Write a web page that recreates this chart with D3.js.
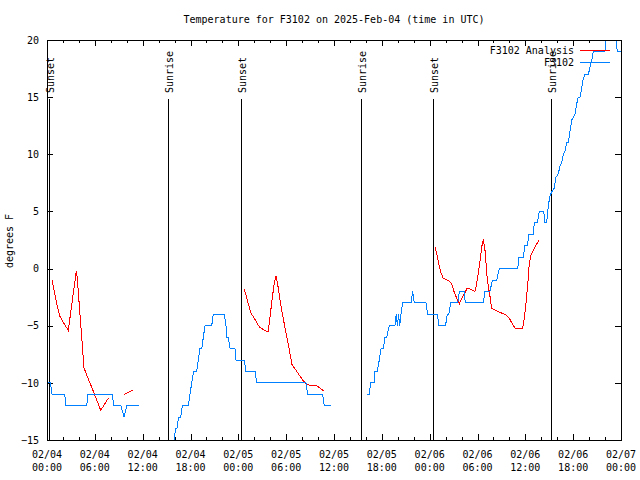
<!DOCTYPE html>
<html><head><meta charset="utf-8">
<script src="https://cdn.jsdelivr.net/npm/d3@7"></script>
<style>
body{margin:0;background:#fff}
svg{display:block}
text{font-family:"DejaVu Sans Mono","Liberation Mono",monospace;font-size:10px;fill:#000}
</style>
</head><body><svg id="c" width="640" height="480"></svg>
<script>
const title = "Temperature for F3102 on 2025-Feb-04 (time in UTC)";
const yLabel = "degrees F";
const seriesNames = ["F3102 Analysis", "F3102"];
const seriesColors = ["#ff0000", "#0080ff"];
const yTicks = [-15, -10, -5, 0, 5, 10, 15, 20];
const xMajorHours = [0, 6, 12, 18, 24, 30, 36, 42, 48, 54, 60, 66, 72];
const startUTC = Date.UTC(2025, 1, 4, 0, 0);

// Observations (hours since 2025-02-04 00:00 UTC), null = gap
const obsHours = [0.13,0.42,0.63,2.22,2.38,4.98,5.14,8.15,8.40,9.28,9.66,10.0,11.54,null,
 15.93,16.14,16.3,16.5,16.77,16.97,17.72,17.94,18.15,18.4,18.78,18.98,19.19,19.41,19.61,19.82,20.66,20.86,22.24,22.45,22.54,22.74,22.96,23.58,23.71,24.75,24.96,26.09,26.30,32.49,32.70,34.58,34.78,35.62,null,
 40.18,40.43,40.6,41.02,41.14,41.43,41.68,41.9,42.18,42.4,42.61,42.94,43.65,43.8,43.95,44.1,44.25,44.4,44.6,45.66,45.87,46.07,47.54,47.75,48.96,49.17,49.99,50.21,50.4,50.64,51.52,51.72,52.34,52.47,54.73,54.94,55.57,55.86,56.41,56.74,59.04,59.21,59.75,59.95,60.25,60.46,61.0,61.13,61.5,61.75,62.3,62.47,62.68,62.88,63.10,63.31,63.60,63.85,64.14,64.35,64.56,64.76,64.98,65.19,65.39,65.60,65.82,66.02,66.23,66.44,66.64,66.86,67.07,67.27,67.49,67.90,68.11,68.32,68.53,69.99,70.12,70.25,71.25,71.38,71.54,72.0];
const obsTemps = [-10,-10,-11,-11,-12,-12,-11,-11,-12,-12,-13,-12,-12,null,
 -15,-14,-14,-13,-13,-12,-12,-11,-10,-9,-9,-8,-7,-7,-6,-5,-5,-4,-4,-5,-6,-6,-7,-7,-8,-8,-9,-9,-10,-10,-11,-11,-12,-12,null,
 -11,-11,-10,-10,-9,-9,-8,-7,-7,-6,-6,-5,-5,-4,-5,-4,-5,-4,-3,-3,-2,-3,-3,-4,-4,-5,-5,-4,-4,-3,-3,-2,-2,-3,-3,-2,-2,-1,-1,0,0,1,1,2,2,3,3,4,4,5,5,4,4,5.5,6.4,6.7,7,8,8.3,9,9.3,10,10.3,11,11,12,13,13.2,13.5,14.4,15,15,15.8,16.6,17,17,17.6,18.2,19,19,20,21,21,20,19,19];

// Analysis
const anaHours = [0.63,1.29,1.63,2.13,2.67,3.68,3.80,4.05,4.43,4.64,4.98,5.90,6.74,7.69,null,9.70,10.75,null,
 24.71,24.96,25.18,25.59,26.0,26.63,27.26,27.72,27.89,28.22,28.51,28.73,28.94,29.35,29.98,30.39,30.73,31.23,32.07,32.49,32.90,33.53,33.96,34.78,null,
 48.67,48.88,49.08,49.38,49.71,50.34,50.76,51.05,51.39,51.72,52.02,52.35,52.72,53.06,53.69,53.90,54.23,54.53,54.73,54.94,55.23,55.57,55.78,56.41,57.04,57.58,57.99,58.42,58.71,59.67,59.83,60.05,60.30,60.50,60.71,61.0,61.43,61.75];
const anaTemps = [-1.0,-3.3,-4.2,-4.8,-5.4,-0.2,-0.85,-3.2,-6.7,-8.7,-9.3,-10.9,-12.4,-11.35,null,-11.0,-10.65,null,
 -1.8,-2.3,-2.9,-3.9,-4.35,-5.1,-5.4,-5.55,-4.8,-2.75,-1.3,-0.65,-1.4,-3.3,-5.65,-7.1,-8.4,-8.9,-9.75,-10.1,-10.2,-10.2,-10.3,-10.75,null,
 1.9,1.3,0.6,-0.3,-0.85,-1.05,-1.3,-2.0,-2.6,-3.1,-2.6,-2.2,-1.7,-1.8,-2.0,-1.3,0.2,1.9,2.55,1.6,-1.0,-2.45,-3.5,-3.7,-3.9,-4.05,-4.35,-4.9,-5.2,-5.2,-4.5,-3.3,-1.4,0.5,1.2,1.6,2.15,2.55];

const sunHours = [0.21, 15.22, 24.28, 39.36, 48.37, 63.27];
const sunLabels = ["Sunset", "Sunrise", "Sunset", "Sunrise", "Sunset", "Sunrise"];

const toDate = h => new Date(startUTC + h * 3600e3);
const L = 47, R = 621, T = 40, B = 440;
const svg = d3.select("#c");
const x = d3.scaleUtc().domain([toDate(0), toDate(72)]).range([L, R]);
const y = d3.scaleLinear().domain([-15, 20]).range([B, T]);

svg.append("text").attr("x", (L + R) / 2).attr("y", 23).attr("text-anchor", "middle").text(title);
svg.append("text").attr("transform", `translate(13,241) rotate(-90)`).attr("text-anchor", "middle").text(yLabel);

const minorDates = d3.range(0, 73, 2).filter(h => h % 6 !== 0).map(toDate);
const majorDates = xMajorHours.map(toDate);

function cleanAxis(g) { g.select(".domain").remove(); g.selectAll("line").attr("stroke", "#000").attr("shape-rendering", "crispEdges"); }

svg.append("g").attr("transform", `translate(0,${B})`).call(d3.axisBottom(x).tickValues(majorDates).tickSize(-6).tickFormat("")).call(cleanAxis);
svg.append("g").attr("transform", `translate(0,${B})`).call(d3.axisBottom(x).tickValues(minorDates).tickSize(-3).tickFormat("")).call(cleanAxis);
svg.append("g").attr("transform", `translate(0,${T})`).call(d3.axisTop(x).tickValues(majorDates).tickSize(-6).tickFormat("")).call(cleanAxis);
svg.append("g").attr("transform", `translate(0,${T})`).call(d3.axisTop(x).tickValues(minorDates).tickSize(-3).tickFormat("")).call(cleanAxis);
const yAx = svg.append("g").attr("transform", `translate(${L},0)`).call(d3.axisLeft(y).tickValues(yTicks).tickSize(-6).tickPadding(8).tickFormat(d3.format("d"))).call(cleanAxis);
yAx.selectAll("text").attr("font-family", null).attr("font-size", null).attr("fill", "#000");
svg.append("g").attr("transform", `translate(${R},0)`).call(d3.axisRight(y).tickValues(yTicks).tickSize(-6).tickFormat("")).call(cleanAxis);

const fmtD = d3.utcFormat("%m/%d"), fmtT = d3.utcFormat("%H:%M");
const xl = svg.append("g").selectAll("text").data(majorDates).join("text")
  .attr("x", d => x(d)).attr("text-anchor", "middle");
xl.append("tspan").attr("x", d => x(d)).attr("y", 458).text(d => fmtD(d));
xl.append("tspan").attr("x", d => x(d)).attr("y", 471).text(d => fmtT(d));

// sunrise/sunset lines
const sun = svg.append("g");
sunHours.forEach((h, i) => {
  const sx = Math.round(x(toDate(h))) + 0.5;
  sun.append("line").attr("x1", sx).attr("x2", sx).attr("y1", 99).attr("y2", B).attr("stroke", "#000").attr("shape-rendering", "crispEdges");
  sun.append("text").attr("transform", `translate(${sx + 4},93) rotate(-90)`).attr("text-anchor", "start").text(sunLabels[i]);
});

svg.append("clipPath").attr("id", "clip").append("rect").attr("x", L).attr("y", T).attr("width", R - L).attr("height", B - T);

const line = d3.line().defined(d => d[1] !== null).x(d => x(toDate(d[0]))).y(d => y(d[1]));
const anaData = anaHours.map((h, i) => [h, anaTemps[i]]);
const obsData = obsHours.map((h, i) => [h, obsTemps[i]]);
const plot = svg.append("g").attr("clip-path", "url(#clip)");
plot.append("path").datum(anaData).attr("d", line).attr("fill", "none").attr("stroke", seriesColors[0]).attr("stroke-width", 1).attr("shape-rendering", "crispEdges");
plot.append("path").datum(obsData).attr("d", line).attr("fill", "none").attr("stroke", seriesColors[1]).attr("stroke-width", 1).attr("shape-rendering", "crispEdges");

// border
svg.append("rect").attr("x", L + 0.5).attr("y", T + 0.5).attr("width", R - L).attr("height", B - T)
  .attr("fill", "none").attr("stroke", "#000").attr("shape-rendering", "crispEdges");

// legend
const lg = svg.append("g");
seriesNames.forEach((n, i) => {
  const ly = 50 + i * 12;
  lg.append("text").attr("x", 574).attr("y", ly + 3.5).attr("text-anchor", "end").text(n);
  lg.append("line").attr("x1", 580).attr("x2", 610).attr("y1", ly + 0.5).attr("y2", ly + 0.5).attr("stroke", seriesColors[i]).attr("shape-rendering", "crispEdges");
});
</script></body></html>
